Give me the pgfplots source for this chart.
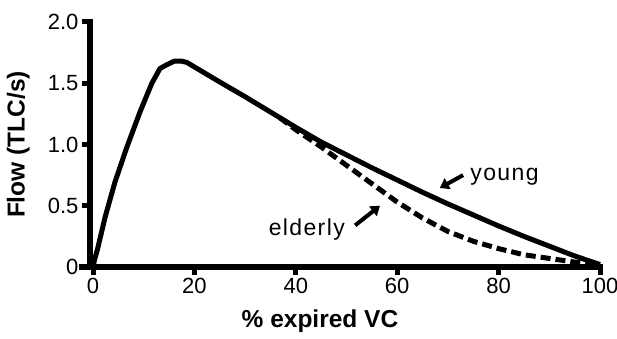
\documentclass[border=0pt]{standalone}
\usepackage{pgfplots}
\pgfplotsset{compat=1.18}
\usepackage{fontspec}
\setmainfont{Liberation Sans}
\newfontfamily\annfont{Liberation Sans}[LetterSpace=6]
\usetikzlibrary{arrows.meta}
\begin{document}
\begin{tikzpicture}
\begin{axis}[
  anchor=south west, at={(0,0)},
  scale only axis, width=510pt, height=245pt,
  xmin=-0.6, xmax=100, ymin=0, ymax=2,
  axis lines*=left,
  axis line style={line width=5.5pt, line cap=rect},
  x axis line style={shorten <=-8pt},
  xtick={0,20,40,60,80,100},
  ytick={0,0.5,1,1.5,2},
  yticklabels={0,0.5,1.0,1.5,2.0},
  tick align=outside, major tick length=8pt,
  tick style={line width=5pt, black},
  /pgf/number format/assume math mode=true,
  tick label style={font=\fontsize{22}{26}\selectfont},
  xlabel={\bfseries\% expired VC}, ylabel={\bfseries Flow (TLC/s)},
  label style={font=\fontsize{24.5}{28}\selectfont, inner sep=0pt},
  xlabel style={at={(axis description cs:0.5,0)}, anchor=north, yshift=-43pt, xshift=-25pt},
  ylabel style={at={(axis description cs:0,0.5)}, anchor=south, yshift=60pt},
  clip=false,
]
\addplot[line width=5pt, line join=round] coordinates {
 (0,0) (0.3,0.06) (0.85,0.14) (2.4,0.41) (4.3,0.69) (6.6,0.97) (9.3,1.27) (11.6,1.50) (13.2,1.62)
 (14.5,1.65) (16,1.68) (17.5,1.68) (18.5,1.67) (25,1.51) (30,1.39) (36.8,1.22)
 (40,1.14) (45,1.02) (50,0.915) (55,0.81) (60,0.71) (65,0.61) (70,0.515)
 (75,0.425) (80,0.335) (85,0.25) (90,0.17) (95,0.09) (100,0.02)};
\addplot[line width=5pt, dash pattern=on 10pt off 5pt] coordinates {
 (36.8,1.22) (40,1.12) (45,0.98) (50,0.83) (55,0.68) (60,0.53)
 (65,0.40) (70,0.29) (75,0.21) (80,0.15) (85,0.10) (90,0.07) (95,0.04) (100,0.02)};
\node[anchor=base west, inner sep=0pt, font=\annfont\fontsize{23}{27}\selectfont] at (axis cs:74.4,0.71) {young};
\draw[line width=4pt, -{Triangle[length=9pt,width=12pt]}] (axis cs:73,0.75) -- (axis cs:68.4,0.645);
\node[anchor=base east, inner sep=0pt, font=\annfont\fontsize{23}{27}\selectfont] at (axis cs:49.7,0.26) {elderly};
\draw[line width=4pt, -{Triangle[length=9pt,width=12pt]}] (axis cs:51.7,0.34) -- (axis cs:56.6,0.50);
\end{axis}
\pgfresetboundingbox
\useasboundingbox (-90pt,-72pt) rectangle (527pt,267pt);
\end{tikzpicture}
\end{document}
